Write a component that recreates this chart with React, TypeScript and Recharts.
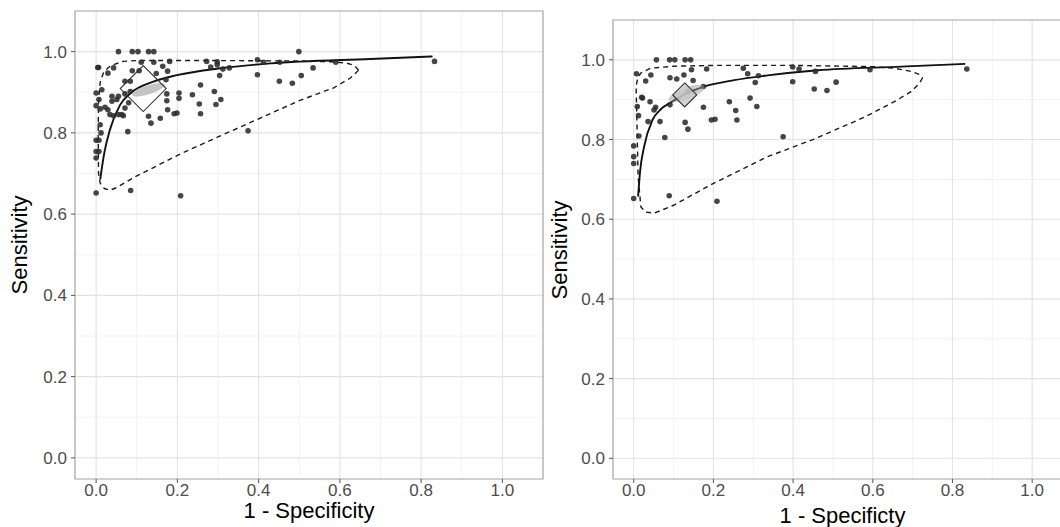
import React from 'react';
import { ComposedChart, Scatter, Line, XAxis, YAxis, CartesianGrid, ReferenceArea } from 'recharts';

type Pt = { x: number; y: number };

const fontFamily = '"Liberation Sans", Arial, Helvetica, sans-serif';

const majorTicks = [0, 0.2, 0.4, 0.6, 0.8, 1.0];
const minorTicks = [0.1, 0.3, 0.5, 0.7, 0.9];
const axisDomain: [number, number] = [-0.052, 1.1];

// left panel: individual studies (1 - specificity, sensitivity)
const leftStudies: Pt[] = [
  { x: 0.055, y: 1.0 }, { x: 0.089, y: 1.0 }, { x: 0.103, y: 1.0 }, { x: 0.129, y: 1.0 }, { x: 0.142, y: 1.0 },
  { x: 0.499, y: 1.0 }, { x: 0.006, y: 0.961 }, { x: 0.029, y: 0.947 }, { x: 0.043, y: 0.96 }, { x: 0.111, y: 0.974 },
  { x: 0.089, y: 0.953 }, { x: 0.106, y: 0.953 }, { x: 0.142, y: 0.974 }, { x: 0.181, y: 0.976 }, { x: 0.164, y: 0.964 },
  { x: 0.176, y: 0.952 }, { x: 0.148, y: 0.946 }, { x: 0.084, y: 0.927 }, { x: 0.071, y: 0.927 }, { x: 0.172, y: 0.931 },
  { x: 0.272, y: 0.976 }, { x: 0.298, y: 0.975 }, { x: 0.298, y: 0.968 }, { x: 0.282, y: 0.962 }, { x: 0.312, y: 0.957 },
  { x: 0.328, y: 0.96 }, { x: 0.304, y: 0.941 }, { x: 0.397, y: 0.98 }, { x: 0.412, y: 0.974 }, { x: 0.452, y: 0.974 },
  { x: 0.397, y: 0.943 }, { x: 0.451, y: 0.927 }, { x: 0.483, y: 0.922 }, { x: 0.505, y: 0.941 }, { x: 0.534, y: 0.96 },
  { x: 0.59, y: 0.974 }, { x: 0.257, y: 0.918 }, { x: 0.291, y: 0.902 }, { x: 0.237, y: 0.894 }, { x: 0.204, y: 0.898 },
  { x: 0.204, y: 0.885 }, { x: 0.174, y: 0.896 }, { x: 0.174, y: 0.879 }, { x: 0.307, y: 0.882 }, { x: 0.295, y: 0.87 },
  { x: 0.254, y: 0.871 }, { x: 0.176, y: 0.857 }, { x: 0.199, y: 0.849 }, { x: 0.192, y: 0.847 }, { x: 0.257, y: 0.847 },
  { x: 0.129, y: 0.841 }, { x: 0.158, y: 0.836 }, { x: 0.135, y: 0.824 }, { x: 0.078, y: 0.803 }, { x: 0.374, y: 0.805 },
  { x: 0.085, y: 0.658 }, { x: 0.208, y: 0.645 }, { x: 0.0, y: 0.652 }, { x: 0.0, y: 0.898 }, { x: 0.014, y: 0.906 },
  { x: 0.007, y: 0.882 }, { x: 0.0, y: 0.867 }, { x: 0.022, y: 0.863 }, { x: 0.01, y: 0.859 }, { x: 0.029, y: 0.857 },
  { x: 0.034, y: 0.845 }, { x: 0.043, y: 0.842 }, { x: 0.055, y: 0.845 }, { x: 0.063, y: 0.845 }, { x: 0.067, y: 0.842 },
  { x: 0.039, y: 0.89 }, { x: 0.039, y: 0.878 }, { x: 0.051, y: 0.882 }, { x: 0.071, y: 0.896 }, { x: 0.084, y: 0.902 },
  { x: 0.08, y: 0.874 }, { x: 0.071, y: 0.861 }, { x: 0.055, y: 0.89 }, { x: 0.01, y: 0.82 }, { x: 0.012, y: 0.8 },
  { x: 0.0, y: 0.782 }, { x: 0.0, y: 0.754 }, { x: 0.0, y: 0.738 }, { x: 0.007, y: 0.782 }, { x: 0.007, y: 0.754 },
  { x: 0.004, y: 0.961 }, { x: 0.833, y: 0.976 },
];

// left panel: SROC curve
const leftSroc: Pt[] = [
  { x: 0.01, y: 0.685 }, { x: 0.02, y: 0.75 }, { x: 0.034, y: 0.808 }, { x: 0.059, y: 0.869 }, { x: 0.084, y: 0.897 },
  { x: 0.141, y: 0.926 }, { x: 0.199, y: 0.942 }, { x: 0.305, y: 0.959 }, { x: 0.429, y: 0.971 }, { x: 0.675, y: 0.982 },
  { x: 0.828, y: 0.988 },
];

// left panel: prediction region (dashed)
const leftRegion: Pt[] = [
  { x: 0.646, y: 0.954 }, { x: 0.626, y: 0.935 }, { x: 0.585, y: 0.911 }, { x: 0.502, y: 0.88 }, { x: 0.43, y: 0.848 },
  { x: 0.3, y: 0.79 }, { x: 0.207, y: 0.748 }, { x: 0.1, y: 0.694 }, { x: 0.05, y: 0.665 }, { x: 0.034, y: 0.659 },
  { x: 0.02, y: 0.663 }, { x: 0.01, y: 0.676 }, { x: 0.006, y: 0.7 }, { x: 0.005, y: 0.8 }, { x: 0.006, y: 0.88 },
  { x: 0.01, y: 0.925 }, { x: 0.018, y: 0.948 }, { x: 0.03, y: 0.961 }, { x: 0.043, y: 0.968 }, { x: 0.067, y: 0.976 },
  { x: 0.1, y: 0.978 }, { x: 0.3, y: 0.978 }, { x: 0.5, y: 0.977 }, { x: 0.58, y: 0.975 }, { x: 0.615, y: 0.972 },
  { x: 0.636, y: 0.966 }, { x: 0.646, y: 0.954 },
];

const leftEllipse: Pt[] = [{ x: 0.129, y: 0.906 }];
const leftSummary: Pt[] = [{ x: 0.116, y: 0.909 }];

// right panel: individual studies
const rightStudies: Pt[] = [
  { x: 0.057, y: 1.0 }, { x: 0.09, y: 1.0 }, { x: 0.103, y: 1.0 }, { x: 0.129, y: 1.0 }, { x: 0.143, y: 1.0 },
  { x: 0.007, y: 0.965 }, { x: 0.043, y: 0.962 }, { x: 0.03, y: 0.947 }, { x: 0.091, y: 0.955 }, { x: 0.108, y: 0.952 },
  { x: 0.126, y: 0.962 }, { x: 0.145, y: 0.975 }, { x: 0.149, y: 0.948 }, { x: 0.183, y: 0.977 }, { x: 0.175, y: 0.933 },
  { x: 0.136, y: 0.92 }, { x: 0.022, y: 0.904 }, { x: 0.009, y: 0.883 }, { x: 0.041, y: 0.895 }, { x: 0.055, y: 0.881 },
  { x: 0.051, y: 0.874 }, { x: 0.091, y: 0.887 }, { x: 0.175, y: 0.881 }, { x: 0.036, y: 0.845 }, { x: 0.012, y: 0.86 },
  { x: 0.066, y: 0.845 }, { x: 0.129, y: 0.843 }, { x: 0.136, y: 0.826 }, { x: 0.195, y: 0.849 }, { x: 0.204, y: 0.851 },
  { x: 0.24, y: 0.895 }, { x: 0.256, y: 0.873 }, { x: 0.259, y: 0.849 }, { x: 0.275, y: 0.979 }, { x: 0.286, y: 0.965 },
  { x: 0.292, y: 0.904 }, { x: 0.305, y: 0.943 }, { x: 0.313, y: 0.96 }, { x: 0.309, y: 0.883 }, { x: 0.399, y: 0.982 },
  { x: 0.415, y: 0.977 }, { x: 0.399, y: 0.945 }, { x: 0.456, y: 0.971 }, { x: 0.453, y: 0.927 }, { x: 0.485, y: 0.923 },
  { x: 0.508, y: 0.944 }, { x: 0.593, y: 0.975 }, { x: 0.078, y: 0.805 }, { x: 0.013, y: 0.809 }, { x: 0.375, y: 0.807 },
  { x: 0.0, y: 0.784 }, { x: 0.0, y: 0.757 }, { x: 0.0, y: 0.74 }, { x: 0.0, y: 0.652 }, { x: 0.089, y: 0.659 },
  { x: 0.209, y: 0.645 }, { x: 0.836, y: 0.977 }, { x: 0.02, y: 0.906 },
];

// right panel: SROC curve
const rightSroc: Pt[] = [
  { x: 0.011, y: 0.657 }, { x: 0.016, y: 0.72 }, { x: 0.026, y: 0.782 }, { x: 0.047, y: 0.849 }, { x: 0.068, y: 0.876 },
  { x: 0.093, y: 0.893 }, { x: 0.135, y: 0.917 }, { x: 0.177, y: 0.933 }, { x: 0.252, y: 0.949 }, { x: 0.336, y: 0.961 },
  { x: 0.462, y: 0.974 }, { x: 0.671, y: 0.983 }, { x: 0.832, y: 0.99 },
];

// right panel: prediction region (dashed)
const rightRegion: Pt[] = [
  { x: 0.725, y: 0.955 }, { x: 0.717, y: 0.941 }, { x: 0.696, y: 0.92 }, { x: 0.654, y: 0.895 }, { x: 0.579, y: 0.856 },
  { x: 0.45, y: 0.8 }, { x: 0.336, y: 0.757 }, { x: 0.2, y: 0.69 }, { x: 0.1, y: 0.635 }, { x: 0.051, y: 0.615 },
  { x: 0.03, y: 0.618 }, { x: 0.018, y: 0.631 }, { x: 0.011, y: 0.707 }, { x: 0.008, y: 0.849 }, { x: 0.006, y: 0.933 },
  { x: 0.01, y: 0.955 }, { x: 0.018, y: 0.967 }, { x: 0.043, y: 0.979 }, { x: 0.1, y: 0.984 }, { x: 0.2, y: 0.986 },
  { x: 0.4, y: 0.986 }, { x: 0.6, y: 0.983 }, { x: 0.654, y: 0.979 }, { x: 0.696, y: 0.971 }, { x: 0.718, y: 0.963 },
  { x: 0.725, y: 0.955 },
];

const rightEllipse: Pt[] = [{ x: 0.133, y: 0.916 }];
const rightSummary: Pt[] = [{ x: 0.128, y: 0.912 }];

const StudyDot = (props: any) => (
  <circle cx={props.cx} cy={props.cy} r={2.8} fill="#2b2b2b" fillOpacity={0.88} />
);

const makeEllipse = (rx: number, ry: number, angle: number, fill: string, opacity: number) => (props: any) => (
  <ellipse
    cx={props.cx}
    cy={props.cy}
    rx={rx}
    ry={ry}
    fill={fill}
    fillOpacity={opacity}
    transform={`rotate(${angle} ${props.cx} ${props.cy})`}
  />
);

const makeDiamond = (h: number, fill: string, opacity: number) => (props: any) => {
  const { cx, cy } = props;
  return (
    <polygon
      points={`${cx},${cy - h} ${cx + h},${cy} ${cx},${cy + h} ${cx - h},${cy}`}
      fill={fill}
      fillOpacity={opacity}
      stroke="#333"
      strokeWidth={1.1}
    />
  );
};

const YTitle = ({ tx, ty }: { tx: number; ty: number }) => (
  <text
    x={tx}
    y={ty}
    transform={`rotate(-90 ${tx} ${ty})`}
    textAnchor="middle"
    fontSize={22}
    fontFamily={fontFamily}
    fill="#000"
  >
    Sensitivity
  </text>
);

interface PanelProps {
  studies: Pt[];
  sroc: Pt[];
  region: Pt[];
  ellipse: Pt[];
  summary: Pt[];
  xTitle: string;
  xTitleOffset: number;
  width: number;
  top: number;
  right: number;
  yAxisWidth: number;
  yTitleX: number;
  yTitleY: number;
  ellipseShape: (p: any) => React.ReactElement;
  diamondShape: (p: any) => React.ReactElement;
}

const Panel = (p: PanelProps) => (
  <ComposedChart width={p.width} height={527} margin={{ top: p.top, right: p.right, bottom: 0, left: 0 }}>
    <CartesianGrid horizontalValues={minorTicks} verticalValues={minorTicks} stroke="#f0f0f0" strokeWidth={0.9} />
    <CartesianGrid horizontalValues={majorTicks} verticalValues={majorTicks} stroke="#e3e3e3" strokeWidth={1.1} />
    <XAxis
      type="number"
      dataKey="x"
      domain={axisDomain}
      ticks={majorTicks}
      allowDataOverflow
      height={48}
      axisLine={false}
      tickLine={{ stroke: '#555' }}
      tickSize={4}
      tickMargin={1}
      tick={{ fill: '#4d4d4d', fontSize: 17, fontFamily }}
      tickFormatter={(v: number) => v.toFixed(1)}
      label={{ value: p.xTitle, position: 'insideBottom', offset: p.xTitleOffset, fill: '#000', fontSize: 22, fontFamily }}
    />
    <YAxis
      type="number"
      dataKey="y"
      domain={axisDomain}
      ticks={majorTicks}
      allowDataOverflow
      width={p.yAxisWidth}
      axisLine={false}
      tickLine={{ stroke: '#555' }}
      tickSize={4}
      tickMargin={4}
      tick={{ fill: '#4d4d4d', fontSize: 17, fontFamily }}
      tickFormatter={(v: number) => v.toFixed(1)}
      label={<YTitle tx={p.yTitleX} ty={p.yTitleY} />}
    />
    <ReferenceArea
      x1={axisDomain[0]}
      x2={axisDomain[1]}
      y1={axisDomain[0]}
      y2={axisDomain[1]}
      fill="none"
      fillOpacity={0}
      stroke="#a3a3a3"
      strokeWidth={1.2}
      ifOverflow="visible"
    />
    <Scatter data={p.studies} dataKey="y" shape={StudyDot} isAnimationActive={false} />
    <Line data={p.sroc} dataKey="y" type="monotone" stroke="#111" strokeWidth={1.9} dot={false} activeDot={false} isAnimationActive={false} />
    <Line data={p.region} dataKey="y" type="linear" stroke="#1a1a1a" strokeWidth={1.4} strokeDasharray="5 4" dot={false} activeDot={false} isAnimationActive={false} />
    <Scatter data={p.ellipse} dataKey="y" shape={p.ellipseShape} isAnimationActive={false} />
    <Scatter data={p.summary} dataKey="y" shape={p.diamondShape} isAnimationActive={false} />
  </ComposedChart>
);

export default function App() {
  return (
    <div style={{ position: 'absolute', left: 0, top: 0, width: 1060, height: 527, overflow: 'hidden', background: '#fff' }}>
      <div style={{ position: 'absolute', left: 0, top: 0 }}>
        <Panel
          studies={leftStudies}
          sroc={leftSroc}
          region={leftRegion}
          ellipse={leftEllipse}
          summary={leftSummary}
          xTitle="1 - Specificity"
          xTitleOffset={9}
          width={545}
          top={11}
          right={2}
          yAxisWidth={75}
          yTitleX={27}
          yTitleY={245}
          ellipseShape={makeEllipse(17, 4.5, -18, '#8c8c8c', 0.5)}
          diamondShape={makeDiamond(23, 'none', 0)}
        />
      </div>
      <div style={{ position: 'absolute', left: 545, top: 0 }}>
        <Panel
          studies={rightStudies}
          sroc={rightSroc}
          region={rightRegion}
          ellipse={rightEllipse}
          summary={rightSummary}
          xTitle="1 - Specificty"
          xTitleOffset={4}
          width={527}
          top={20}
          right={0}
          yAxisWidth={68}
          yTitleX={22}
          yTitleY={250}
          ellipseShape={makeEllipse(19, 6, -20, '#9a9a9a', 0.5)}
          diamondShape={makeDiamond(12, '#c8c8c8', 0.8)}
        />
      </div>
    </div>
  );
}
